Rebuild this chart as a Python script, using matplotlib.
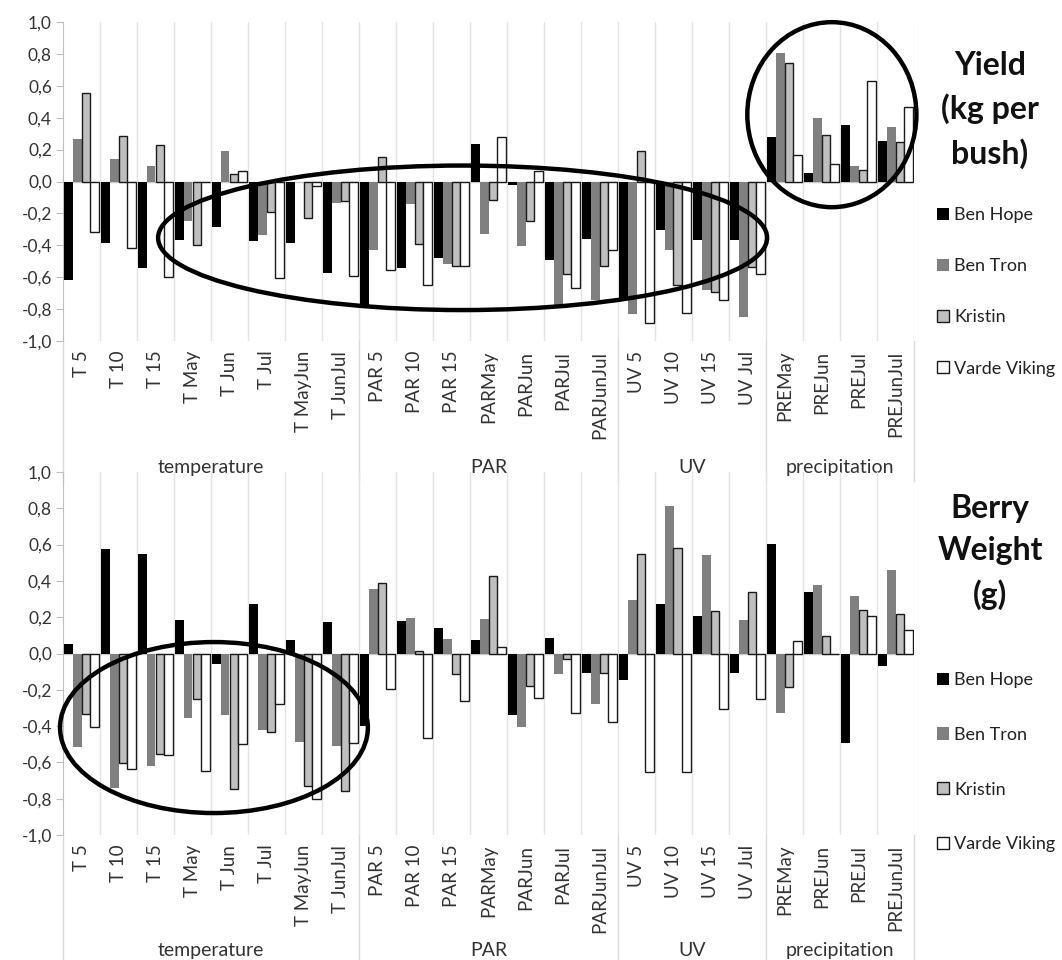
import matplotlib
matplotlib.use("Agg")
import matplotlib.pyplot as plt
from matplotlib.patches import Ellipse
import numpy as np

plt.rcParams['font.family'] = ['Lato', 'DejaVu Sans']

categories = ["T 5", "T 10", "T 15", "T May", "T Jun", "T Jul", "T MayJun", "T JunJul",
              "PAR 5", "PAR 10", "PAR 15", "PARMay", "PARJun", "PARJul", "PARJunJul",
              "UV 5", "UV 10", "UV 15", "UV Jul",
              "PREMay", "PREJun", "PREJul", "PREJunJul"]
group_names = ["temperature", "PAR", "UV", "precipitation"]
group_sizes = [8, 7, 4, 4]
cultivars = ["Ben Hope", "Ben Tron", "Kristin", "Varde Viking"]

# correlation with yield (kg per bush)
yield_ben_hope = [-0.615, -0.383, -0.54, -0.365, -0.285, -0.37, -0.385, -0.573,
                  -0.775, -0.54, -0.48, 0.235, -0.02, -0.49, -0.36,
                  -0.733, -0.306, -0.365, -0.365,
                  0.277, 0.054, 0.354, 0.256]
yield_ben_tron = [0.267, 0.14, 0.10, -0.25, 0.19, -0.333, 0.0, -0.133,
                  -0.43, -0.14, -0.52, -0.33, -0.406, -0.775, -0.745,
                  -0.83, -0.43, -0.68, -0.85,
                  0.804, 0.40, 0.10, 0.34]
yield_kristin = [0.554, 0.283, 0.23, -0.40, 0.044, -0.19, -0.227, -0.12,
                 0.156, -0.39, -0.53, -0.115, -0.248, -0.583, -0.53,
                 0.19, -0.65, -0.69, -0.535,
                 0.74, 0.29, 0.073, 0.246]
yield_varde = [-0.317, -0.42, -0.60, 0.0, 0.065, -0.605, -0.03, -0.594,
               -0.552, -0.646, -0.53, 0.28, 0.065, -0.67, -0.427,
               -0.89, -0.827, -0.74, -0.58,
               0.169, 0.11, 0.627, 0.469]

# correlation with berry weight (g)
berry_ben_hope = [0.051, 0.574, 0.547, 0.187, -0.057, 0.275, 0.077, 0.174,
                  -0.40, 0.178, 0.141, 0.075, -0.34, 0.086, -0.106,
                  -0.147, 0.275, 0.206, -0.11,
                  0.606, 0.34, -0.495, -0.07]
berry_ben_tron = [-0.514, -0.743, -0.62, -0.354, -0.338, -0.422, -0.486, -0.508,
                  0.354, 0.196, 0.08, 0.19, -0.404, -0.114, -0.279,
                  0.294, 0.813, 0.54, 0.187,
                  -0.327, 0.38, 0.317, 0.459]
berry_kristin = [-0.336, -0.605, -0.554, -0.248, -0.749, -0.435, -0.728, -0.758,
                 0.389, 0.013, -0.114, 0.428, -0.18, -0.028, -0.106,
                 0.55, 0.583, 0.233, 0.338,
                 -0.183, 0.097, 0.242, 0.217]
berry_varde = [-0.407, -0.638, -0.561, -0.648, -0.50, -0.28, -0.80, -0.495,
               -0.198, -0.468, -0.26, 0.037, -0.244, -0.33, -0.378,
               -0.651, -0.655, -0.308, -0.248,
               0.068, -0.005, 0.209, 0.128]

face_colors = ["#000000", "#808080", "#bfbfbf", "#ffffff"]
edge_colors = ["none", "none", "#1a1a1a", "#1a1a1a"]

W, H = 1062, 960
fig = plt.figure(figsize=(W / 100, H / 100), dpi=100)


def px_axes(left, top, right, bottom):
    ax = fig.add_axes([left / W, 1 - bottom / H, (right - left) / W, (bottom - top) / H])
    ax.patch.set_visible(False)
    return ax


def draw_panel(ax, series, title, title_y, legend_y, legend_gap, label_y, sep_depth, ellipses):
    n = len(categories)
    x = np.arange(n)
    bw = 0.95 / 4
    handles = []
    for i, vals in enumerate(series):
        b = ax.bar(x - 0.475 + bw * (i + 0.5), vals, bw, color=face_colors[i],
                   edgecolor=edge_colors[i], linewidth=1.0, zorder=3, label=cultivars[i])
        handles.append(b)

    ax.set_xlim(-0.5, n - 0.5)
    ax.set_ylim(-1, 1)
    ticks = np.arange(-1, 1.01, 0.2)
    ax.set_yticks(ticks)
    ax.set_yticklabels([f"{v:.1f}".replace(".", ",").replace("-0,0", "0,0") for v in ticks])
    ax.tick_params(axis='y', length=5, color="#bfbfbf", labelsize=12.5,
                   labelcolor="#333333", pad=3)
    ax.set_xticks(x)
    ax.set_xticklabels(categories, rotation=90)
    ax.tick_params(axis='x', length=0, labelsize=13.5, labelcolor="#333333", pad=7)

    for s in ["top", "right", "bottom"]:
        ax.spines[s].set_visible(False)
    ax.spines["left"].set_color("#bfbfbf")

    for k in range(1, n + 1):
        ax.axvline(k - 0.5, color="#e3e3e3", lw=1, zorder=1)
    ax.axhline(0, color="#c8c8c8", lw=1, zorder=2)

    # multi-level category axis: group separators and names
    tr = ax.get_xaxis_transform()
    start = 0
    edges = [-0.5]
    for name, size in zip(group_names, group_sizes):
        ax.text(start + (size - 1) / 2, label_y, name, transform=tr, ha="center",
                va="center", fontsize=14, color="#333333")
        start += size
        edges.append(start - 0.5)
    for e in edges:
        ax.plot([e, e], [0, sep_depth], transform=tr, color="#d9d9d9", lw=1,
                clip_on=False)

    for (cx, cy, ew, eh) in ellipses:
        ax.add_patch(Ellipse((cx, cy), ew, eh, fill=False, edgecolor="black",
                             lw=3.2, zorder=5, clip_on=False))

    fig.text(990 / W, 1 - title_y / H, title, ha="center", va="center",
             fontsize=23, fontweight="bold", linespacing=1.55, color="#111111")
    fig.legend(handles=handles, loc="upper left",
               bbox_to_anchor=(928 / W, 1 - legend_y / H), frameon=False,
               fontsize=13, handlelength=0.65, handleheight=0.65,
               handletextpad=0.3, labelspacing=legend_gap, borderpad=0,
               labelcolor="#222222")


ax_top = px_axes(63, 22, 914, 341)
draw_panel(ax_top, [yield_ben_hope, yield_ben_tron, yield_kristin, yield_varde],
           "Yield\n(kg per\nbush)", 110, 198, 1.95, -0.395, -0.44,
           [(10.3, -0.353, 16.46, 0.906), (20.28, 0.419, 4.57, 1.16)])

ax_bot = px_axes(63, 472, 914, 835)
draw_panel(ax_bot, [berry_ben_hope, berry_ben_tron, berry_kristin, berry_varde],
           "Berry\nWeight\n(g)", 552, 663, 2.15, -0.317, -0.35,
           [(3.58, -0.408, 8.32, 0.942)])

fig.savefig("out.png", dpi=100, facecolor="white")
